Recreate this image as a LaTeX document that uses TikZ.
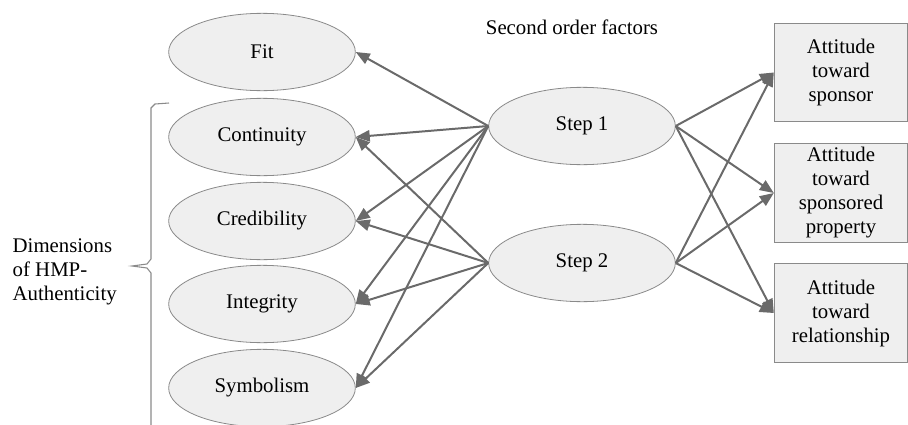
\documentclass[tikz,border=0pt]{standalone}
\usepackage{fontspec}
\setmainfont{Liberation Serif}
\usetikzlibrary{shapes.geometric,arrows.meta}
\definecolor{efill}{HTML}{EFEFEF}
\definecolor{edraw}{HTML}{8A8A8A}
\definecolor{arr}{HTML}{6A6A6A}
\begin{document}
\begin{tikzpicture}[x=0.75pt,y=-0.75pt,
  font=\fontsize{15.6}{18}\selectfont,
  oval/.style={ellipse,draw=edraw,fill=efill,line width=0.6pt,minimum width=140pt,minimum height=58pt,inner sep=0pt},
  outbox/.style={rectangle,draw=edraw,fill=efill,line width=0.8pt,minimum width=100pt,minimum height=74pt,inner sep=0pt,align=center},
  link/.style={draw=arr,line width=1.5pt,-{Triangle[length=10.5pt,width=8.5pt]}},
  brk/.style={draw=edraw,line width=0.8pt}]
\useasboundingbox (0,0) rectangle (908,425);
\node[oval] (fit) at (262,52) {Fit};
\node[oval] (con) at (262,137) {Continuity};
\node[oval] (cre) at (262,221) {Credibility};
\node[oval] (int) at (262,304) {Integrity};
\node[oval] (sym) at (262,388) {Symbolism};
\node[oval] (s1) at (582,126) {Step 1};
\node[oval] (s2) at (582,263) {Step 2};
\node[outbox] (a1) at (841,72.5) {Attitude\\toward\\sponsor};
\node[outbox] (a2) at (841,193) {Attitude\\toward\\sponsored\\property};
\node[outbox] (a3) at (841,313) {Attitude\\toward\\relationship};
\node (sof) at (572,27) {Second order factors};
\node[align=left,anchor=west] (dim) at (8,272) {Dimensions\\of HMP-\\Authenticity};
\draw[brk] (169,103) -- (155,104) -- (151,108) -- (151,259) -- (147,264) -- (132,266) -- (147,268) -- (151,273) -- (151,425);
\foreach \t in {fit,con,cre,int,sym} \draw[link] (s1.west) -- (\t.east);
\foreach \t in {con,cre,int,sym} \draw[link] (s2.west) -- (\t.east);
\foreach \t in {a1,a2,a3} {\draw[link] (s1.east) -- (\t.west); \draw[link] (s2.east) -- (\t.west);}
\end{tikzpicture}
\end{document}
